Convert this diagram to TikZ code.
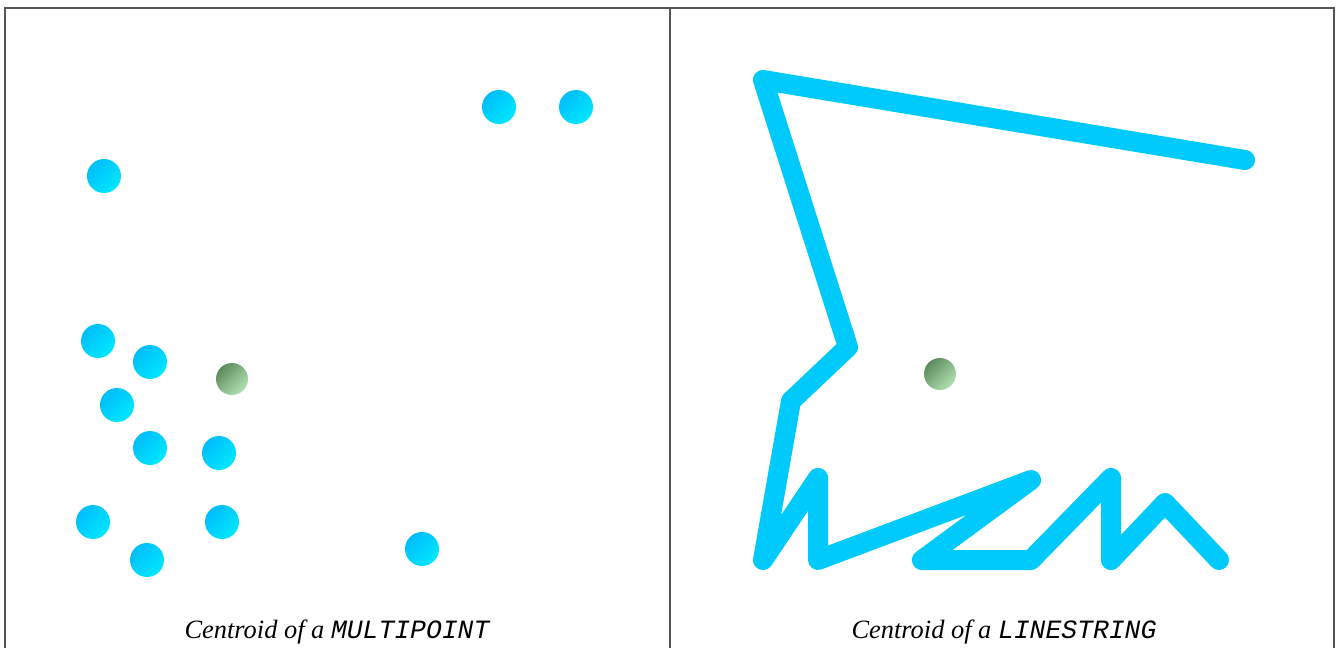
\documentclass[tikz,border=0pt]{standalone}
\usepackage{fontspec}
\setmainfont{Liberation Serif}
\setmonofont{Liberation Mono}
\usetikzlibrary{positioning}
\definecolor{cyandark}{HTML}{00BDFA}
\definecolor{cyanlight}{HTML}{00E8FF}
\definecolor{greendark}{HTML}{5C8A5E}
\definecolor{greenlight}{HTML}{B2E2B2}
\definecolor{frame}{HTML}{555555}

\begin{document}
\begin{tikzpicture}[x=.5pt,y=-.5pt,
 mpoint/.style={circle,inner sep=0pt,minimum size=17pt,left color=cyandark,right color=cyanlight,shading angle=45},
 centroid/.style={circle,inner sep=0pt,minimum size=16pt,left color=greendark,right color=greenlight,shading angle=45},
 capt/.style={font=\itshape\fontsize{13.2pt}{15pt}\selectfont}]
\useasboundingbox (0,0) rectangle (1340,648);
% frame
\draw[frame,line width=1pt] (5,648)--(5,8)--(1334,8)--(1334,648);
\draw[frame,line width=1pt] (670,8)--(670,648);
% multipoint
\foreach \n/\x/\y in {a/499/107,b/576/107,c/104/176,d/98/341,e/150/362,f/117/405,g/150/448,
 h/219/453,i/93/522,j/222/522,k/147/560,l/422/549}
 \node[mpoint] (m\n) at (\x,\y) {};
\node[centroid] (mc) at (232,379) {};
\node[capt] (mcap) at (337,632) {Centroid of a \texttt{MULTIPOINT}};
% linestring
\foreach \n/\x/\y in {1/1245/160,2/763/80,3/848/347,4/791/401,5/763/560,6/818/478,7/818/560,
 8/1031/480,9/922/560,10/1031/560,11/1111/478,12/1111/560,13/1165/503,14/1219/560}
 \coordinate (l\n) at (\x,\y);
\draw[cyandark!70!cyanlight,line width=10pt,line cap=round,line join=round]
 (l1)--(l2)--(l3)--(l4)--(l5)--(l6)--(l7)--(l8)--(l9)--(l10)--(l11)--(l12)--(l13)--(l14);
\node[centroid] (lc) at (940,374) {};
\node[capt] (lcap) at (1004,632) {Centroid of a \texttt{LINESTRING}};
\end{tikzpicture}
\end{document}
